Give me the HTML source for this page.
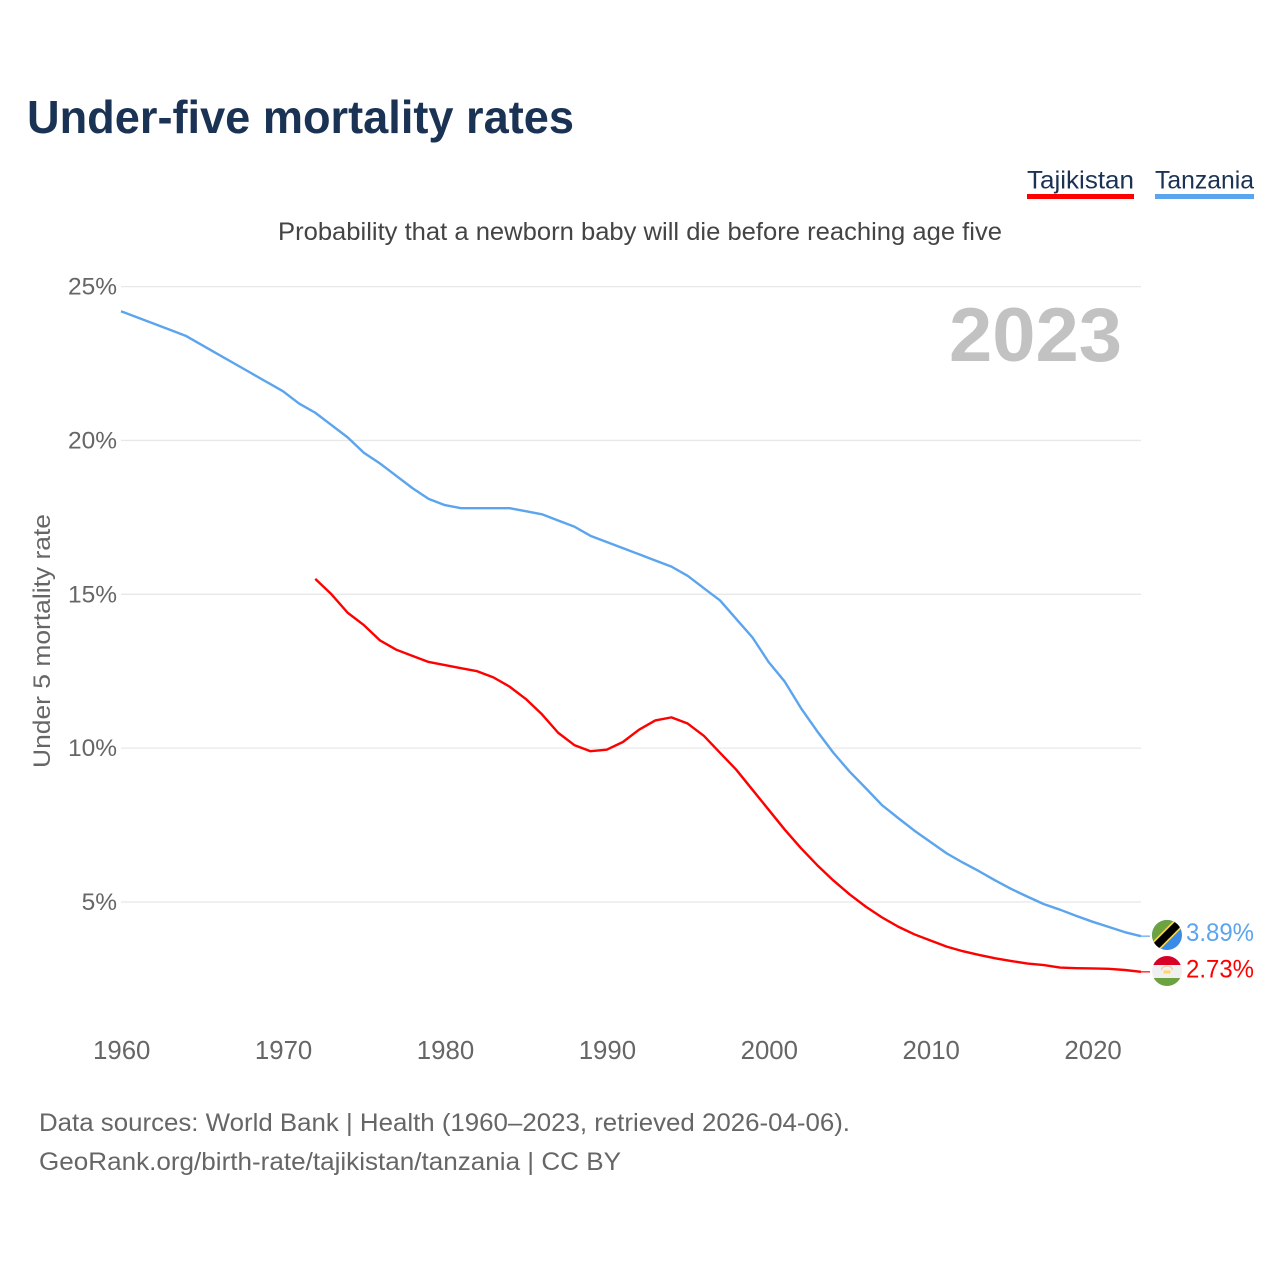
<!DOCTYPE html>
<html lang="en">
<head>
<meta charset="utf-8">
<title>Under-five mortality rates</title>
<style>
html,body{margin:0;padding:0;background:#fff;}
svg{display:block;font-family:"Liberation Sans",sans-serif;}
</style>
</head>
<body>
<svg id="chart" width="1280" height="1280" viewBox="0 0 1280 1280" xmlns="http://www.w3.org/2000/svg">
  <defs>
    <clipPath id="flag-clip-tz"><circle cx="1167" cy="935" r="15"/></clipPath>
    <clipPath id="flag-clip-tj"><circle cx="1167" cy="971" r="15"/></clipPath>
  </defs>
  <rect width="1280" height="1280" fill="#fff"/>
  <text x="27" y="133" font-size="46" font-weight="700" fill="#1a3253" textLength="547" lengthAdjust="spacingAndGlyphs">Under-five mortality rates</text>

  <g>
    <text x="1027" y="188.5" font-size="25" fill="#1a3253" textLength="107" lengthAdjust="spacingAndGlyphs">Tajikistan</text>
    <rect x="1027" y="194" width="107" height="5" fill="#ff0000"/>
  </g>
  <g>
    <text x="1155" y="188.5" font-size="25" fill="#1a3253" textLength="99" lengthAdjust="spacingAndGlyphs">Tanzania</text>
    <rect x="1155" y="194" width="99" height="5" fill="#5ba4ee"/>
  </g>

  <text x="278" y="240" font-size="25" fill="#444" textLength="724" lengthAdjust="spacingAndGlyphs">Probability that a newborn baby will die before reaching age five</text>

  <g id="grid"></g>
  <g id="yticks"></g>
  <g id="xticks"></g>

  <text transform="translate(50,641) rotate(-90)" text-anchor="middle" font-size="24.5" fill="#666" textLength="254" lengthAdjust="spacingAndGlyphs">Under 5 mortality rate</text>

  <text x="949" y="361" font-size="76" font-weight="700" fill="#c2c2c2" textLength="173" lengthAdjust="spacingAndGlyphs">2023</text>

  <path id="leader-tanzania" fill="none" stroke="#5ba4ee" stroke-width="1.2"/>
  <path id="leader-tajikistan" fill="none" stroke="#ff0000" stroke-width="1.2"/>
  <path id="line-tanzania" fill="none" stroke="#5ba4ee" stroke-width="2.4" stroke-linejoin="round"/>
  <path id="line-tajikistan" fill="none" stroke="#ff0000" stroke-width="2.4" stroke-linejoin="round"/>

  <g clip-path="url(#flag-clip-tz)">
    <rect x="1150" y="918" width="34" height="34" fill="#3a8ae6"/>
    <polygon points="1150,918 1184,918 1150,952" fill="#6da241"/>
    <line x1="1153" y1="949" x2="1181" y2="921" stroke="#f5d33d" stroke-width="11"/>
    <line x1="1153" y1="949" x2="1181" y2="921" stroke="#000" stroke-width="7.5"/>
  </g>
  <g clip-path="url(#flag-clip-tj)">
    <rect x="1150" y="954" width="34" height="11" fill="#d80027"/>
    <rect x="1150" y="965" width="34" height="13" fill="#f0f0f0"/>
    <rect x="1150" y="978" width="34" height="10" fill="#6da241"/>
    <path d="M1161.5 970 a5.5 4 0 0 1 11 0" fill="none" stroke="#f3c9a8" stroke-width="1.3"/>
    <rect x="1163.5" y="970.5" width="7" height="3" fill="#ffd75e"/>
  </g>

  <text id="value-tanzania" x="1186" y="941" font-size="25" fill="#5ba4ee" textLength="68" lengthAdjust="spacingAndGlyphs">3.89%</text>
  <text id="value-tajikistan" x="1186" y="977.5" font-size="25" fill="#ff0000" textLength="68" lengthAdjust="spacingAndGlyphs">2.73%</text>

  <text x="39" y="1131" font-size="25" fill="#666" textLength="811" lengthAdjust="spacingAndGlyphs">Data sources: World Bank | Health (1960–2023, retrieved 2026-04-06).</text>
  <text x="39" y="1170" font-size="25" fill="#666" textLength="582" lengthAdjust="spacingAndGlyphs">GeoRank.org/birth-rate/tajikistan/tanzania | CC BY</text>
</svg>
<script>
const tanzaniaStartYear = 1960;
const tajikistanStartYear = 1972;
const tanzaniaValues = [24.2,24.0,23.8,23.6,23.4,23.1,22.8,22.5,22.2,21.9,21.6,21.2,20.9,20.5,20.1,19.6,19.25,18.85,18.45,18.1,17.9,17.8,17.8,17.8,17.8,17.7,17.6,17.4,17.2,16.9,16.7,16.5,16.3,16.1,15.9,15.6,15.2,14.8,14.2,13.6,12.8,12.16,11.3,10.55,9.85,9.24,8.7,8.15,7.73,7.32,6.95,6.58,6.28,6.0,5.7,5.42,5.17,4.93,4.75,4.55,4.36,4.19,4.02,3.89];
const tajikistanValues = [15.5,15.0,14.4,14.0,13.5,13.2,13.0,12.8,12.7,12.6,12.5,12.3,12.0,11.6,11.1,10.5,10.1,9.9,9.95,10.2,10.6,10.9,11.0,10.8,10.4,9.85,9.3,8.65,8.0,7.35,6.75,6.2,5.7,5.25,4.85,4.5,4.2,3.95,3.75,3.55,3.4,3.28,3.17,3.08,3.0,2.95,2.87,2.85,2.84,2.83,2.79,2.73];
const yTickValues = [5,10,15,20,25];
const xTickYears = [1960,1970,1980,1990,2000,2010,2020];

const SVG_NS = 'http://www.w3.org/2000/svg';
const xOf = function (year) { return 121 + (year - 1960) * 16.19; };
const yOf = function (value) { return 902 - (value - 5) * 30.77; };

function linePath(values, firstYear) {
  return values.map(function (v, i) {
    return (i ? 'L' : 'M') + xOf(firstYear + i).toFixed(2) + ' ' + yOf(v).toFixed(2);
  }).join(' ');
}

const grid = document.getElementById('grid');
const yticks = document.getElementById('yticks');
const xticks = document.getElementById('xticks');

yTickValues.forEach(function (v) {
  const l = document.createElementNS(SVG_NS, 'line');
  
  
  l.setAttribute('x1', xOf(1960));
  l.setAttribute('x2', xOf(2023));
  l.setAttribute('y1', yOf(v));
  l.setAttribute('y2', yOf(v));
  l.setAttribute('stroke', '#e8e8e8');
  l.setAttribute('stroke-width', '1.3');
  grid.appendChild(l);

  const t = document.createElementNS(SVG_NS, 'text');
  
  
  t.setAttribute('x', 117);
  t.setAttribute('y', yOf(v) + 8);
  t.setAttribute('text-anchor', 'end');
  t.setAttribute('font-size', '24.5');
  t.setAttribute('fill', '#666');
  t.textContent = v + '%';
  yticks.appendChild(t);
});

xTickYears.forEach(function (year) {
  const t = document.createElementNS(SVG_NS, 'text');
  
  
  t.setAttribute('x', xOf(year) + 0.7);
  t.setAttribute('y', 1059);
  t.setAttribute('text-anchor', 'middle');
  t.setAttribute('font-size', '25.8');
  t.setAttribute('fill', '#666');
  t.textContent = String(year);
  xticks.appendChild(t);
});

const lastTz = tanzaniaValues[tanzaniaValues.length - 1];
const lastTj = tajikistanValues[tajikistanValues.length - 1];
document.getElementById('line-tanzania').setAttribute('d', linePath(tanzaniaValues, tanzaniaStartYear));
document.getElementById('line-tajikistan').setAttribute('d', linePath(tajikistanValues, tajikistanStartYear));
document.getElementById('leader-tanzania').setAttribute('d', 'M' + xOf(2023) + ' ' + yOf(lastTz).toFixed(2) + ' L1150 ' + yOf(lastTz).toFixed(2));
document.getElementById('leader-tajikistan').setAttribute('d', 'M' + xOf(2023) + ' ' + yOf(lastTj).toFixed(2) + ' L1150 ' + yOf(lastTj).toFixed(2));
document.getElementById('value-tanzania').textContent = lastTz.toFixed(2) + '%';
document.getElementById('value-tajikistan').textContent = lastTj.toFixed(2) + '%';
</script>
</body>
</html>
